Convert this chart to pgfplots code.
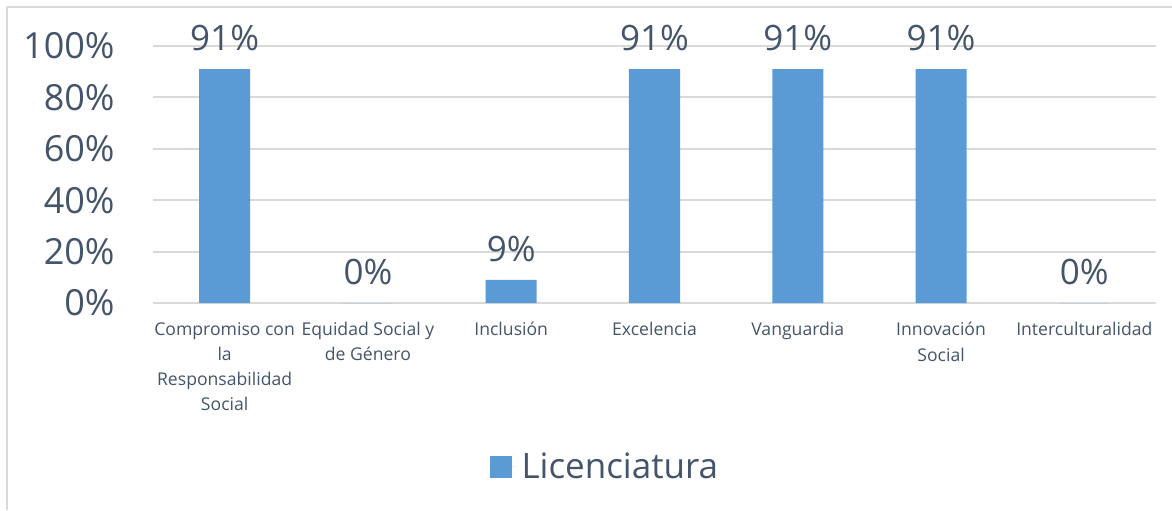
\documentclass[border=0pt]{standalone}
\usepackage{pgfplots}
\pgfplotsset{compat=1.18}
\usepackage{fontspec}
\setmainfont{Open Sans}
\definecolor{txt}{HTML}{44546A}
\definecolor{barc}{HTML}{5B9BD5}
\definecolor{grd}{HTML}{D9D9D9}
\begin{document}
\begin{tikzpicture}[x=0.5pt,y=0.5pt]
\useasboundingbox (-153,303) rectangle (1019,-207);
\draw[grd, line width=1pt] (-146,-207) -- (-146,296) -- (1019,296);
\begin{axis}[
  at={(0,0)}, anchor=south west,
  scale only axis, width=501.5pt, height=128.5pt,
  xmin=-0.5, xmax=6.5, ymin=0, ymax=100,
  axis line style={draw=none},
  major tick length=0pt,
  ytick={0,20,...,100},
  yticklabel={\pgfmathprintnumber{\tick}\%},
  ymajorgrids, grid style={grd, line width=1pt},
  xtick={0,...,6},
  xticklabels={{Compromiso con\\la\\Responsabilidad\\Social},{Equidad Social y\\de Género},Inclusión,Excelencia,Vanguardia,{Innovación\\Social},Interculturalidad},
  xticklabel style={align=center, font=\fontsize{8.8}{12.6}\selectfont, text=txt, anchor=north, yshift=-9.5pt, inner sep=0pt},
  yticklabel style={font=\fontsize{18}{21}\selectfont, text=txt, anchor=east, xshift=-19pt, inner sep=0pt},
  /pgf/number format/assume math mode=true,
  legend style={at={(0.4515,-0.638)}, anchor=center, draw=none, fill=none, font=\fontsize{17.5}{20}\selectfont, text=txt, inner sep=0pt, legend cell align=left},
  legend image code/.code={\fill[barc] (-2pt,-5.5pt) rectangle (9pt,5.5pt); \path (-2pt,0) -- (12pt,0);},
  clip=false,
]
\addplot[ybar, bar width=0.356, fill=barc, draw=none,
  nodes near coords={\pgfmathprintnumber{\pgfplotspointmeta}\%},
  nodes near coords style={font=\fontsize{17.5}{20}\selectfont, text=txt, anchor=south, inner sep=0pt, yshift=9pt},
  point meta=explicit symbolic]
coordinates {(0,91) [91] (1,0) [0] (2,9) [9] (3,91) [91] (4,91) [91] (5,91) [91] (6,0) [0]};
\addlegendentry{Licenciatura}
\end{axis}
\end{tikzpicture}
\end{document}
